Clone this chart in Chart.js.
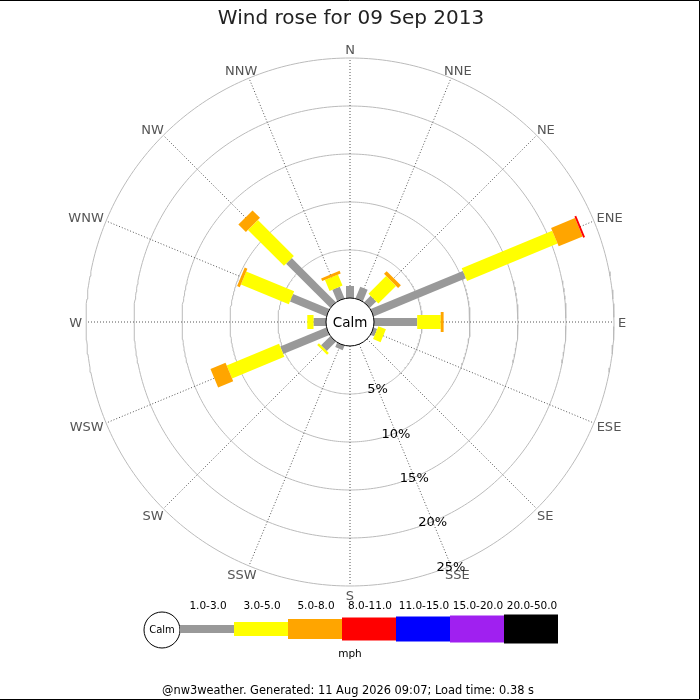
<!DOCTYPE html>
<html>
<head>
<meta charset="utf-8">
<script src="https://cdn.jsdelivr.net/npm/chart.js@4/dist/chart.umd.min.js"></script>
<style>
  html, body { margin: 0; padding: 0; background: #fff; }
  canvas { display: block; }
</style>
</head>
<body>
<canvas id="windRose" width="700" height="700"></canvas>
<script>
// compass directions, clockwise from north
const directions = ["N", "NNE", "NE", "ENE", "E", "ESE", "SE", "SSE",
                    "S", "SSW", "SW", "WSW", "W", "WNW", "NW", "NNW"];
// speed bins (mph)
const speedBins = ["1.0-3.0", "3.0-5.0", "5.0-8.0", "8.0-11.0", "11.0-15.0", "15.0-20.0", "20.0-50.0"];
// frequency (%) per direction for each speed bin
const freq1to3   = [1.25, 1.3, 0.95, 10.4, 4.5, 0.4, 0, 0, 0, 0.5, 1.35, 5.2, 1.3, 4.1, 6.5, 1.3];
const freq3to5   = [0, 0, 2.6, 10.2, 2.45, 0.85, 0, 0, 0, 0, 0.25, 5.9, 0.65, 5.4, 5.3, 1.25];
const freq5to8   = [0, 0, 0.4, 2.7, 0.3, 0, 0, 0, 0, 0, 0, 1.7, 0, 0.3, 1.1, 0.3];
const freq8to11  = [0, 0, 0, 0.2, 0, 0, 0, 0, 0, 0, 0, 0, 0, 0, 0, 0];
const freq11to15 = [0, 0, 0, 0, 0, 0, 0, 0, 0, 0, 0, 0, 0, 0, 0, 0];
const freq15to20 = [0, 0, 0, 0, 0, 0, 0, 0, 0, 0, 0, 0, 0, 0, 0, 0];
const freq20to50 = [0, 0, 0, 0, 0, 0, 0, 0, 0, 0, 0, 0, 0, 0, 0, 0];
const ringValues = [5, 10, 15, 20, 25];
const ringLabels = ["5%", "10%", "15%", "20%", "25%"];

const binFreqs = [freq1to3, freq3to5, freq5to8, freq8to11, freq11to15, freq15to20, freq20to50];
const binColors = ["#999999", "#ffff00", "#ffa500", "#ff0000", "#0000ff", "#a020f0", "#000000"];
const binWidths = [8, 14, 20, 23, 25, 27, 29];

const CALM_R = 24;      // px radius of calm circle
const PX_PER_PCT = 9.6; // px per 1%
const FONT = "'DejaVu Sans', sans-serif";

const rad = pct => CALM_R + pct * PX_PER_PCT;
const angle = i => i * Math.PI / 8;
const polar = (r, a) => ({ x: r * Math.sin(a), y: r * Math.cos(a) });

const datasets = [];

// rings
ringValues.forEach(v => {
  const pts = [];
  for (let k = 0; k <= 360; k++) pts.push(polar(rad(v), k * Math.PI / 180));
  datasets.push({ data: pts, borderColor: "#bbbbbb", borderWidth: 1, order: 100 });
});

// spokes
directions.forEach((d, i) => {
  datasets.push({
    data: [polar(CALM_R, angle(i)), polar(rad(ringValues[ringValues.length - 1]), angle(i))],
    borderColor: "#555", borderWidth: 1, borderDash: [1, 2], order: 90
  });
});

// stacked bars
directions.forEach((d, i) => {
  let cum = 0;
  binFreqs.forEach((arr, b) => {
    const v = arr[i];
    if (v > 0) {
      datasets.push({
        data: [polar(rad(cum), angle(i)), polar(rad(cum + v), angle(i))],
        borderColor: binColors[b], borderWidth: binWidths[b],
        borderCapStyle: "butt", order: 50 - b
      });
    }
    cum += v;
  });
});

// calm circle
datasets.push({
  data: [{ x: 0, y: 0 }], showLine: false, pointRadius: CALM_R,
  pointBackgroundColor: "#fff", pointBorderColor: "#000", pointBorderWidth: 1, order: 0
});

const labelsPlugin = {
  id: "roseLabels",
  afterDraw(chart) {
    const { ctx, scales: { x, y } } = chart;
    const px = p => [x.getPixelForValue(p.x), y.getPixelForValue(p.y)];
    ctx.save();

    // frame
    ctx.strokeStyle = "#000";
    ctx.lineWidth = 1;
    ctx.beginPath();
    ctx.moveTo(0, 0.5); ctx.lineTo(699.5, 0.5); ctx.lineTo(699.5, 699.5); ctx.lineTo(0, 699.5);
    ctx.stroke();

    // title
    ctx.fillStyle = "#222";
    ctx.font = "20px " + FONT;
    ctx.textAlign = "center";
    ctx.textBaseline = "alphabetic";
    ctx.fillText("Wind rose for 09 Sep 2013", 351, 24);

    // direction labels
    ctx.font = "13px " + FONT;
    ctx.fillStyle = "#555";
    ctx.textBaseline = "middle";
    directions.forEach((d, i) => {
      const a = angle(i);
      const [cx, cy] = px(polar(rad(25) + 4, a));
      const w = ctx.measureText(d).width;
      ctx.fillText(d, cx + w * Math.sin(a) / 2, cy - 5 * Math.cos(a) + 1.5);
    });

    // ring labels along SSE
    ctx.font = "13px " + FONT;
    ctx.fillStyle = "#000";
    ringValues.forEach((v, k) => {
      const [cx, cy] = px(polar(rad(v), angle(7)));
      ctx.fillText(ringLabels[k], cx, cy + 1.5);
    });

    // calm text
    const [ox, oy] = px({ x: 0, y: 0 });
    ctx.font = "13.5px " + FONT;
    ctx.fillText("Calm", ox, oy + 1);

    // legend
    const lx = 180, ly = 629, bw = 54;
    ctx.beginPath();
    ctx.arc(162, 630, 18, 0, Math.PI * 2);
    ctx.fillStyle = "#fff";
    ctx.fill();
    ctx.strokeStyle = "#000";
    ctx.stroke();
    ctx.font = "10px " + FONT;
    ctx.fillStyle = "#000";
    ctx.fillText("Calm", 162, 630);
    speedBins.forEach((s, b) => {
      ctx.fillStyle = binColors[b];
      ctx.fillRect(lx + b * bw, ly - binWidths[b] / 2, bw, binWidths[b]);
      ctx.fillStyle = "#000";
      ctx.font = "10.5px " + FONT;
      ctx.fillText(s, lx + b * bw + bw / 2 + 1, 606);
    });
    ctx.fillText("mph", 350, 654);

    // footer
    ctx.font = "11.4px " + FONT;
    ctx.fillText("@nw3weather. Generated: 11 Aug 2026 09:07; Load time: 0.38 s", 348, 691);
    ctx.restore();
  }
};

new Chart(document.getElementById("windRose"), {
  type: "scatter",
  data: { datasets },
  options: {
    responsive: false,
    animation: false,
    showLine: true,
    elements: { point: { radius: 0, hoverRadius: 0 } },
    layout: { padding: 0, autoPadding: false },
    scales: {
      x: { type: "linear", min: -350, max: 350, display: false },
      y: { type: "linear", min: -378, max: 322, display: false }
    },
    plugins: { legend: { display: false }, tooltip: { enabled: false } },
    events: []
  },
  plugins: [labelsPlugin]
});
</script>
</body>
</html>
